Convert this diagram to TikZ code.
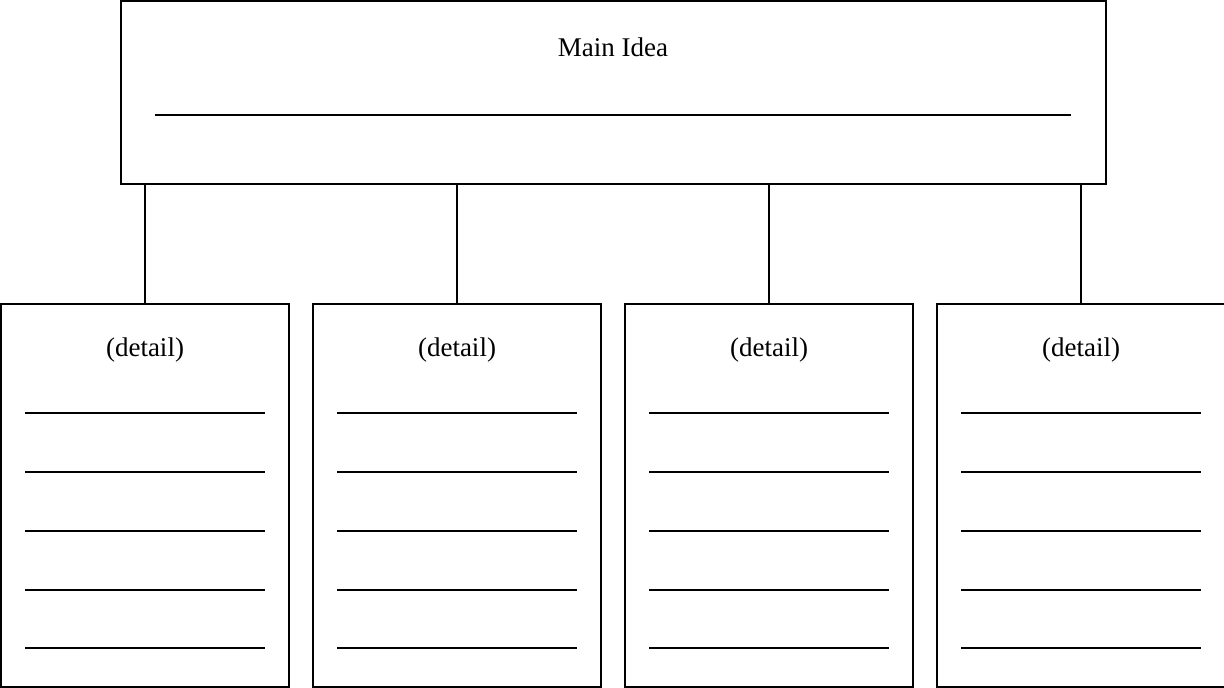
\documentclass[tikz,border=0pt]{standalone}
\usepackage{fontspec}
\setmainfont{Liberation Serif}
\begin{document}
\begin{tikzpicture}[x=1pt,y=-1pt,
  box/.style={draw, line width=1.6pt, inner sep=0pt},
  rule/.style={line width=1.4pt},
  link/.style={line width=1.6pt},
  lbl/.style={font=\fontsize{27}{31}\selectfont, inner sep=0pt}]
\useasboundingbox (0,0) rectangle (1224,688);
% main box
\node[box, minimum width=985pt, minimum height=183pt] (main) at (613.5,92.5) {};
\node[lbl] (mainlbl) at (613,47) {Main Idea};
\draw[rule] (155,115) -- (1071,115);
% detail boxes
\foreach \i/\cx in {1/145,2/457,3/769,4/1081}{
  \node[box, minimum width=288pt, minimum height=383pt] (d\i) at (\cx,495.5) {};
  \node[lbl] (dl\i) at (\cx,350) {(detail)};
  \foreach \yy in {413,472,531,590,648}{
    \draw[rule] (\cx-120,\yy) -- (\cx+120,\yy);
  }
  \draw[link] (d\i.north) -- (d\i.north |- main.south);
}
\end{tikzpicture}
\end{document}
